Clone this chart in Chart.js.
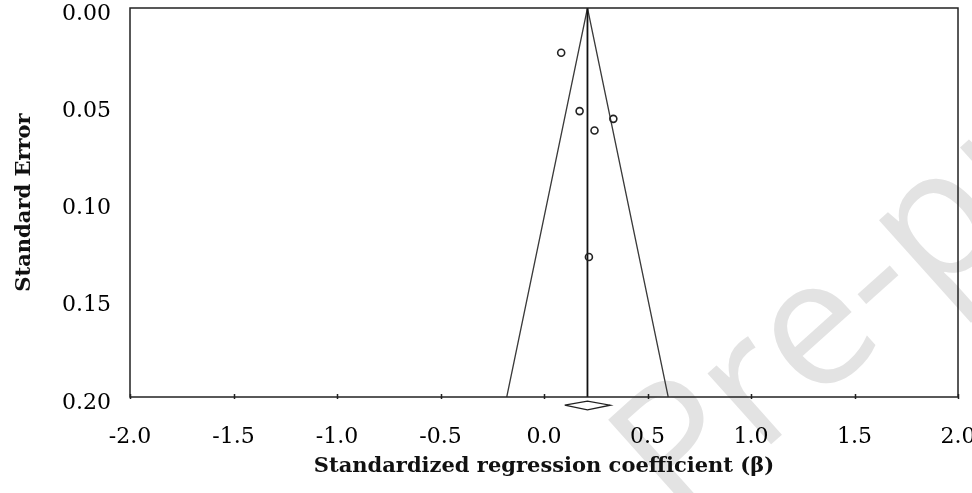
<!DOCTYPE html>
<html lang="en">
<head>
    <meta charset="UTF-8">
    <title>Funnel plot</title>
    <script src="https://cdn.jsdelivr.net/npm/chart.js@4.4.1/dist/chart.umd.min.js"></script>
    <style>
        body {
            margin: 0;
            background: #ffffff;
        }
        #wrap {
            width: 972px;
            height: 493px;
        }
    </style>
</head>
<body>
    <div id="wrap">
        <canvas id="funnel" width="972" height="493"></canvas>
    </div>

    <script>
        // study estimates (beta) and their standard errors
        const studyBeta = [0.083, 0.172, 0.335, 0.244, 0.217];
        const studySE = [0.023, 0.053, 0.057, 0.063, 0.128];

        // pooled estimate and its confidence interval (diamond)
        const pooledBeta = 0.21;
        const pooledLow = 0.10;
        const pooledHigh = 0.32;

        // funnel edges at the bottom of the plot (SE = 0.20)
        const funnelLeftBeta = -0.18;
        const funnelRightBeta = 0.60;
        const seMax = 0.20;

        const xTicks = [-2.0, -1.5, -1.0, -0.5, 0.0, 0.5, 1.0, 1.5, 2.0];
        const yTicks = [0.00, 0.05, 0.10, 0.15, 0.20];

        const serif = "'DejaVu Serif', 'Liberation Serif', serif";

        // watermark + frame + small x tick marks
        const framePlugin = {
            id: 'frame',
            beforeDraw(chart) {
                const c = chart.ctx;
                c.save();
                c.translate(680, 526);
                c.rotate(-0.73);
                c.fillStyle = '#e3e3e3';
                c.font = "178px 'Open Sans', 'DejaVu Sans', sans-serif";
                c.textBaseline = 'alphabetic';
                c.fillText('Pre-proof', 0, 0);
                c.restore();
            },
            afterDraw(chart) {
                const c = chart.ctx;
                const a = chart.chartArea;
                const xs = chart.scales.x;
                c.save();
                c.strokeStyle = '#222';
                c.lineWidth = 1.5;
                c.strokeRect(a.left, a.top, a.right - a.left, a.bottom - a.top);
                c.beginPath();
                xTicks.forEach(v => {
                    const px = Math.round(xs.getPixelForValue(v)) + 0.5;
                    c.moveTo(px, a.bottom - 3);
                    c.lineTo(px, a.bottom + 2);
                });
                c.stroke();
                c.restore();
            }
        };

        const ctx = document.getElementById('funnel').getContext('2d');
        new Chart(ctx, {
            type: 'scatter',
            data: {
                datasets: [{
                    label: 'Studies',
                    data: studyBeta.map((b, i) => ({ x: b, y: studySE[i] })),
                    pointStyle: 'circle',
                    pointRadius: 3.5,
                    pointBorderWidth: 1.6,
                    pointBorderColor: '#222',
                    pointBackgroundColor: 'rgba(255,255,255,0)',
                    order: 0
                }, {
                    type: 'line',
                    label: 'Funnel',
                    data: [
                        { x: funnelLeftBeta, y: seMax },
                        { x: pooledBeta, y: 0 },
                        { x: funnelRightBeta, y: seMax }
                    ],
                    borderColor: '#3a3a3a',
                    borderWidth: 1.3,
                    pointRadius: 0,
                    fill: false,
                    order: 2
                }, {
                    type: 'line',
                    label: 'Pooled',
                    data: [
                        { x: pooledBeta, y: 0 },
                        { x: pooledBeta, y: seMax }
                    ],
                    borderColor: '#111',
                    borderWidth: 1.8,
                    pointRadius: 0,
                    fill: false,
                    order: 1
                }, {
                    type: 'line',
                    label: 'Diamond',
                    data: [
                        { x: pooledLow, y: 0.2042 },
                        { x: pooledBeta, y: 0.2021 },
                        { x: pooledHigh, y: 0.2042 },
                        { x: pooledBeta, y: 0.2066 },
                        { x: pooledLow, y: 0.2042 }
                    ],
                    borderColor: '#222',
                    borderWidth: 1.3,
                    pointRadius: 0,
                    tension: 0,
                    fill: false,
                    clip: false,
                    order: 1
                }]
            },
            options: {
                responsive: false,
                animation: false,
                layout: {
                    padding: { top: 8, right: 14, bottom: 0, left: 0 }
                },
                plugins: {
                    legend: { display: false },
                    tooltip: { enabled: false }
                },
                scales: {
                    x: {
                        type: 'linear',
                        min: -2,
                        max: 2,
                        afterBuildTicks: s => { s.ticks = xTicks.map(v => ({ value: v })); },
                        afterFit: s => {
                            s.height = 96;
                            s.paddingLeft = 0;
                            s.paddingRight = 0;
                        },
                        grid: { display: false, drawTicks: false },
                        border: { display: false },
                        ticks: {
                            padding: 27,
                            color: '#000',
                            maxRotation: 0,
                            font: { family: serif, size: 22 },
                            callback: v => v.toFixed(1)
                        },
                        title: {
                            display: true,
                            text: 'Standardized regression coefficient (β)',
                            color: '#111',
                            font: { family: serif, size: 21, weight: 'bold' },
                            padding: { top: 0, bottom: 14 }
                        }
                    },
                    y: {
                        type: 'linear',
                        reverse: true,
                        min: 0,
                        max: seMax,
                        afterBuildTicks: s => { s.ticks = yTicks.map(v => ({ value: v })); },
                        afterFit: s => {
                            s.width = 130;
                            s.paddingTop = 0;
                            s.paddingBottom = 0;
                        },
                        grid: { display: false, drawTicks: false },
                        border: { display: false },
                        ticks: {
                            padding: 19,
                            labelOffset: 6,
                            color: '#000',
                            font: { family: serif, size: 22 },
                            callback: v => v.toFixed(2)
                        },
                        title: {
                            display: true,
                            text: 'Standard Error',
                            color: '#111',
                            font: { family: serif, size: 21, weight: 'bold' },
                            padding: { top: 12, bottom: 0 }
                        }
                    }
                }
            },
            plugins: [framePlugin]
        });
    </script>
</body>
</html>
